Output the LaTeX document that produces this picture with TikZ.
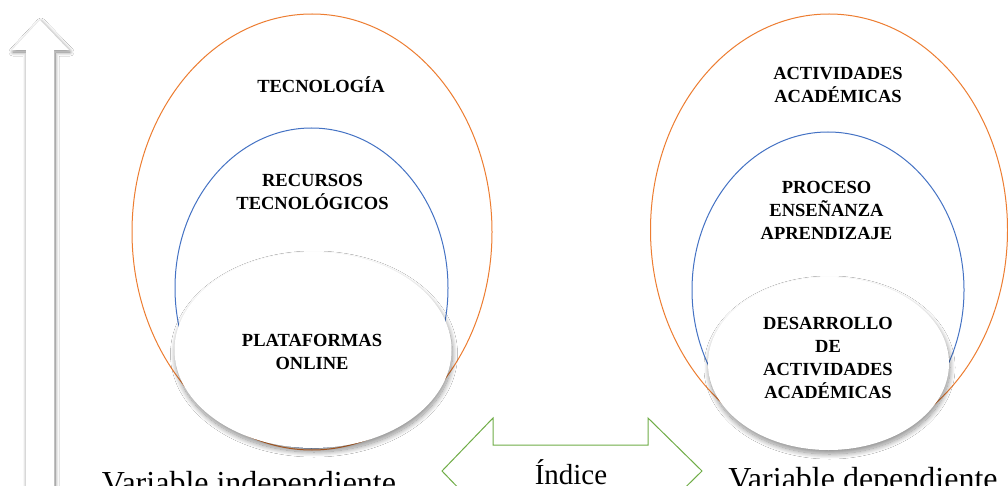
\documentclass[tikz,border=0pt]{standalone}
\usepackage{fontspec}
\setmainfont{Liberation Serif}
\usetikzlibrary{shapes.geometric,shadows.blur}
\definecolor{orng}{HTML}{ED7D31}
\definecolor{blu}{HTML}{4472C4}
\definecolor{grn}{HTML}{70AD47}
\tikzset{
  ring/.style={ellipse, line width=1pt, inner sep=0pt},
  outerring/.style={ring, draw=orng},
  innerring/.style={ring, draw=blu},
  core/.style={ellipse, fill=white, inner sep=0pt,
    blur shadow={shadow xshift=1pt, shadow yshift=-4pt, shadow blur radius=5pt, shadow blur steps=20, shadow opacity=45}},
  lbl/.style={font=\fontsize{18.5}{23}\selectfont\bfseries, align=center, inner sep=0pt, anchor=base},
  bigtxt/.style={font=\fontsize{32}{38}\selectfont, inner sep=0pt, anchor=base},
  midtxt/.style={font=\fontsize{29}{34}\selectfont, inner sep=0pt, anchor=base},
  uparrow/.style={fill=white, blur shadow={shadow xshift=1pt, shadow yshift=-2pt, shadow blur radius=4pt, shadow blur steps=20, shadow opacity=50}},
  dblarrow/.style={draw=grn, fill=white, line width=1pt, line join=miter}
}
\begin{document}
\begin{tikzpicture}[x=1pt,y=-1pt]
\useasboundingbox[fill=white] (0,0) rectangle (1008,486);

% vertical arrow at left
\path[uparrow] (40,20) -- (69,50) -- (54,50) -- (54,520) -- (26,520) -- (26,50) -- (12,50) -- cycle;

% left group
\node[outerring, minimum width=360pt, minimum height=436pt] (lo) at (312,232) {};
\node[innerring, minimum width=273pt, minimum height=320pt] (lb) at (311.5,288) {};
\node[core, minimum width=277pt, minimum height=196pt] (lw) at (313,350) {};
\node[lbl] (tlo) at (321,93) {TECNOLOGÍA};
\node[lbl] (tlb) at (312.5,210) {RECURSOS\\TECNOLÓGICOS};
\node[lbl] (tlw) at (312,369) {PLATAFORMAS\\ONLINE};

% right group
\node[outerring, minimum width=357pt, minimum height=432pt] (ro) at (829,230) {};
\node[innerring, minimum width=272pt, minimum height=316pt] (rb) at (828,290) {};
\node[core, minimum width=241pt, minimum height=173pt] (rw) at (828.5,363.5) {};
\node[lbl] (tro) at (838,103) {ACTIVIDADES\\ACADÉMICAS};
\node[lbl] (trb) at (826.5,240) {PROCESO\\ENSEÑANZA\\APRENDIZAJE};
\node[lbl] (trw) at (828,398) {DESARROLLO\\DE\\ACTIVIDADES\\ACADÉMICAS};

% double arrow
\path[dblarrow] (442,471) -- (493,418) -- (493,445) -- (648,445) -- (648,418) -- (702,471)
  -- (648,524) -- (648,497) -- (493,497) -- (493,524) -- cycle;

% bottom labels
\node[bigtxt] (vi) at (249,493) {Variable independiente};
\node[midtxt] (ind) at (571,484) {Índice};
\node[bigtxt] (vd) at (863,489) {Variable dependiente};
\end{tikzpicture}
\end{document}
